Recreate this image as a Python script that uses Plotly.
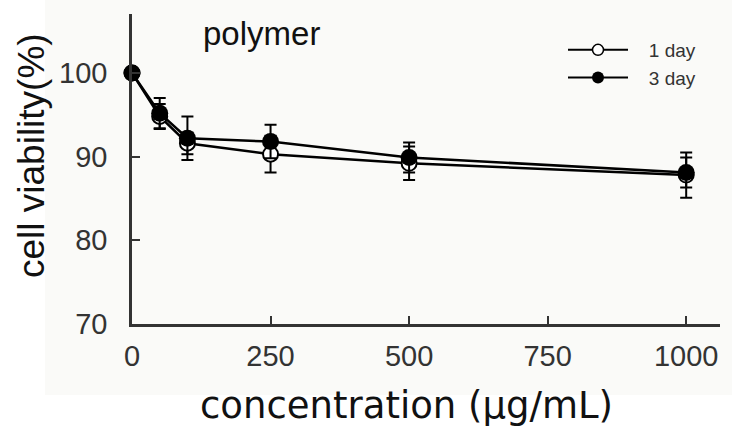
import plotly.graph_objects as go

conc = [0, 50, 100, 250, 500, 1000]
day1 = [100, 94.8, 91.6, 90.3, 89.2, 87.8]
day1_err = [0, 1.5, 1.3, 2.2, 2.0, 2.7]
day3 = [100, 95.2, 92.2, 91.8, 89.9, 88.1]
day3_err = [0, 1.8, 2.6, 2.0, 1.8, 1.8]
x_ticks = [0, 250, 500, 750, 1000]
y_ticks = [70, 80, 90, 100]
series_names = ["1 day", "3 day"]

FONT = "Liberation Sans, Arial, sans-serif"
PAD = "\u00a0\u00a0\u00a0"

fig = go.Figure()
fig.add_trace(go.Scatter(
    x=conc, y=day1, mode="lines+markers", name=series_names[0], showlegend=False,
    line=dict(color="black", width=2.5),
    marker=dict(symbol="circle", size=15, color="white", line=dict(color="black", width=2)),
    error_y=dict(type="data", array=day1_err, color="black", thickness=2, width=6),
    cliponaxis=False))
fig.add_trace(go.Scatter(
    x=conc, y=day3, mode="lines+markers", name=series_names[1], showlegend=False,
    line=dict(color="black", width=2.5),
    marker=dict(symbol="circle", size=17, color="black"),
    error_y=dict(type="data", array=day3_err, color="black", thickness=2, width=6),
    cliponaxis=False))
# legend entries
fig.add_trace(go.Scatter(x=[None], y=[None], mode="lines+markers", name=PAD + series_names[0],
    line=dict(color="black", width=2),
    marker=dict(symbol="circle", size=11, color="white", line=dict(color="black", width=1.5))))
fig.add_trace(go.Scatter(x=[None], y=[None], mode="lines+markers", name=PAD + series_names[1],
    line=dict(color="black", width=2),
    marker=dict(symbol="circle", size=12, color="black")))

L, R, T, B = 132, 12, 14, 112
W, H = 732, 436
pw, ph = W - L - R, H - T - B

def px(xp):
    return (xp - L) / pw

def py(yp):
    return (H - B - yp) / ph

fig.update_layout(
    width=W, height=H,
    margin=dict(l=L, r=R, t=T, b=B, autoexpand=False),
    paper_bgcolor="white", plot_bgcolor="rgba(0,0,0,0)",
    font=dict(family=FONT, color="#222"),
    showlegend=True,
    legend=dict(x=px(563), y=py(31), xanchor="left", yanchor="top",
                font=dict(size=19, family=FONT, color="#333"),
                bgcolor="rgba(0,0,0,0)", tracegroupgap=0, itemwidth=60),
    shapes=[dict(type="rect", xref="paper", yref="paper",
                 x0=px(45), x1=px(W), y0=py(395), y1=py(0),
                 fillcolor="#fafaf8", line=dict(width=0), layer="below")],
    annotations=[
        dict(text="polymer", xref="paper", yref="paper", x=px(261), y=py(33),
             xanchor="center", yanchor="middle",
             showarrow=False, font=dict(size=33, family=FONT, color="#111")),
        dict(text="concentration (μg/mL)", xref="paper", yref="paper", x=px(406), y=py(405),
             xanchor="center", yanchor="middle",
             showarrow=False, font=dict(size=37, family="DejaVu Sans, sans-serif", color="#111")),
        dict(text="cell viability(%)", xref="paper", yref="paper", x=px(32), y=py(156),
             xanchor="center", yanchor="middle",
             showarrow=False, textangle=-90, font=dict(size=37, family=FONT, color="#111")),
    ],
)
fig.update_xaxes(range=[0, 1061], tickvals=x_ticks, ticktext=[str(v) for v in x_ticks],
                 showline=True, linecolor="#333", linewidth=2.5, showgrid=False, zeroline=False,
                 ticks="inside", ticklen=8, tickwidth=2, tickcolor="#333",
                 tickfont=dict(size=29, family=FONT, color="#333"), ticklabelstandoff=4)
fig.update_yaxes(range=[70, 107.05], tickvals=y_ticks, ticktext=[str(v) for v in y_ticks],
                 showline=True, linecolor="#333", linewidth=2.5, showgrid=False, zeroline=False,
                 ticks="inside", ticklen=8, tickwidth=2, tickcolor="#333",
                 tickfont=dict(size=29, family=FONT, color="#333"), ticklabelstandoff=16)

fig.write_html("out.html")
